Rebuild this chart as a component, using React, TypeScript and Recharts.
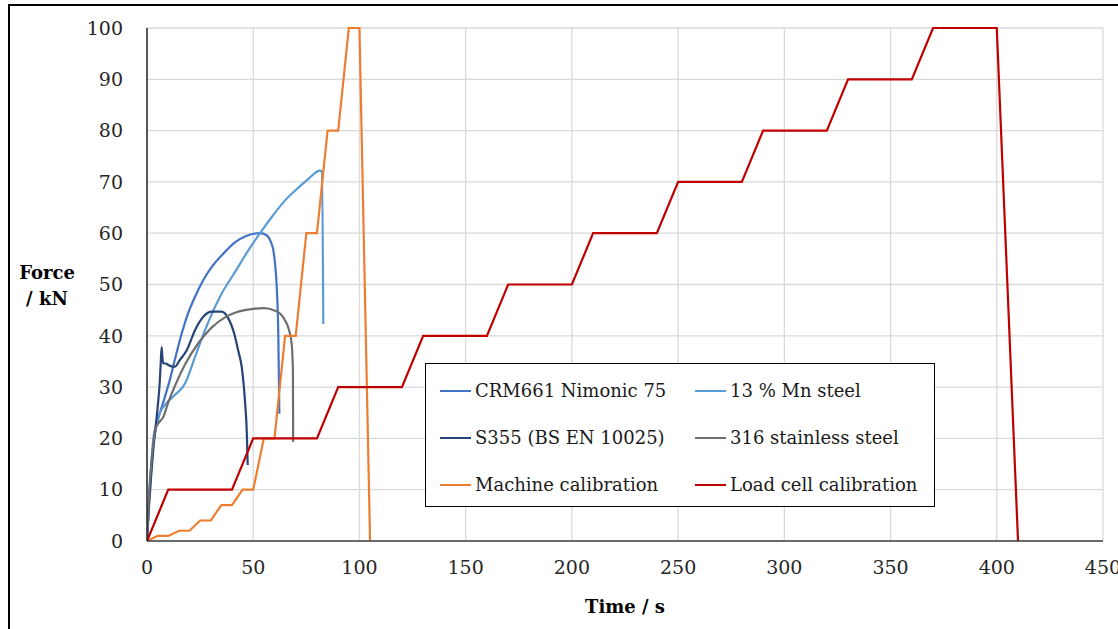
import { CartesianGrid, Label, Legend, Line, LineChart, XAxis, YAxis } from "recharts"

// time (s) / force (kN)
const nimonicTime = [0, 1, 2, 3, 4.5, 5.5, 8, 10.8, 13.2, 16.3, 19, 22.6, 26, 30.4, 35, 41.4, 47, 53.2, 56.3, 58.2, 59.5, 60.4, 61, 61.8, 62.3]
const nimonicForce = [0, 8, 14, 19, 22.5, 24.2, 27.5, 31.5, 35.5, 40.4, 44, 47.6, 50.5, 53.4, 55.6, 58.2, 59.5, 60, 59.6, 58.4, 56.6, 53.5, 50.1, 40.4, 24.8]

const mnTime = [0, 1, 2, 3, 4.5, 6.1, 9, 13.2, 17.9, 22.6, 27.3, 35.1, 41.4, 47, 53.2, 59, 65, 70, 76, 81.4, 82.3, 83]
const mnForce = [0, 9, 15, 20, 23, 25, 26.8, 28.5, 30.7, 35.9, 41.1, 48.2, 52.4, 56.2, 60, 63.3, 66.4, 68.4, 70.6, 72.2, 72, 42.3]

const s355Time = [0, 1, 2, 3, 4, 5, 6, 6.5, 6.9, 7.3, 7.7, 9, 10, 12, 13.2, 15.5, 18.7, 22.6, 26.5, 30.4, 35.1, 38, 41, 43, 44.6, 46.1, 47, 47.4]
const s355Force = [0, 7, 13, 18, 22, 26, 31, 35, 37.8, 35.5, 34.6, 34.6, 34.3, 34, 34, 35.3, 37.2, 41.1, 43.7, 44.7, 44.7, 43.6, 40.5, 37, 33.9, 27.4, 20.9, 14.8]

const stainlessTime = [0, 1, 2, 3, 3.8, 5.5, 7.7, 10, 13.2, 17.9, 24.2, 30.4, 36.7, 41.4, 46, 50.8, 55, 60.3, 63, 65, 66.8, 68.1, 68.7, 68.8]
const stainlessForce = [0, 9, 15, 19, 21.7, 23, 24.2, 27, 30.3, 34.4, 38.6, 41.6, 43.6, 44.5, 45, 45.3, 45.4, 44.9, 44.2, 43, 41.2, 38.4, 33, 19.3]

const machineTime = [0, 5, 10, 15, 20, 25, 30, 35, 40, 45, 50, 55, 60, 65, 70, 75, 80, 85, 90, 95, 100, 105]
const machineForce = [0, 1, 1, 2, 2, 4, 4, 7, 7, 10, 10, 20, 20, 40, 40, 60, 60, 80, 80, 100, 100, 0]

const loadCellTime = [0, 10, 40, 50, 80, 90, 120, 130, 160, 170, 200, 210, 240, 250, 280, 290, 320, 330, 360, 370, 400, 410]
const loadCellForce = [0, 10, 10, 20, 20, 30, 30, 40, 40, 50, 50, 60, 60, 70, 70, 80, 80, 90, 90, 100, 100, 0]

const xTicks = [0, 50, 100, 150, 200, 250, 300, 350, 400, 450]
const yTicks = [0, 10, 20, 30, 40, 50, 60, 70, 80, 90, 100]

const toPoints = (t: number[], f: number[]) => t.map((x, i) => ({ x, y: f[i] }))

const series = [
  { name: "CRM661 Nimonic 75", color: "#4472C4", data: toPoints(nimonicTime, nimonicForce), curve: "monotone" },
  { name: "13 % Mn steel", color: "#5B9BD5", data: toPoints(mnTime, mnForce), curve: "monotone" },
  { name: "S355 (BS EN 10025)", color: "#264478", data: toPoints(s355Time, s355Force), curve: "monotone" },
  { name: "316 stainless steel", color: "#6E6E6E", data: toPoints(stainlessTime, stainlessForce), curve: "monotone" },
  { name: "Machine calibration", color: "#ED7D31", data: toPoints(machineTime, machineForce), curve: "linear" },
  { name: "Load cell calibration", color: "#C00000", data: toPoints(loadCellTime, loadCellForce), curve: "linear" },
]

const FONT = "'DejaVu Serif', serif"

// legend keeps the series order (recharts sorts the payload by name otherwise)
function LegendBox() {
  return (
    <div
      style={{
        border: "1.5px solid #000",
        background: "#fff",
        width: 510,
        height: 144,
        boxSizing: "border-box",
        display: "grid",
        gridTemplateColumns: "255px 255px",
        gridAutoRows: "47px",
        padding: "3px 0 0 0",
        fontFamily: FONT,
        fontSize: 18,
        color: "#1a1a1a",
      }}
    >
      {series.map((s) => (
        <div key={s.name} style={{ display: "flex", alignItems: "center", paddingLeft: 14 }}>
          <span style={{ display: "inline-block", width: 31, height: 2, background: s.color, marginRight: 4 }} />
          <span>{s.name}</span>
        </div>
      ))}
    </div>
  )
}

const yAxisTitle = () => (
  <text fontFamily={FONT} fontSize={18} fontWeight="bold" fill="#000" textAnchor="middle">
    <tspan x={47} y={279}>Force</tspan>
    <tspan x={47} y={305}>/ kN</tspan>
  </text>
)

export default function App() {
  return (
    <div style={{ position: "absolute", left: 0, top: 0, width: 1118, height: 629, overflow: "hidden", background: "#fff" }}>
      <div
        style={{
          position: "absolute",
          left: 8,
          top: 4,
          width: 1300,
          height: 800,
          border: "2.5px solid #000",
        }}
      />
      <div style={{ position: "absolute", left: 0, top: 0 }}>
        <LineChart width={1200} height={629} margin={{ top: 28, right: 97, bottom: 0, left: 0 }}>
          <CartesianGrid stroke="#d9d9d9" strokeWidth={1.3} />
          <XAxis
            type="number"
            dataKey="x"
            domain={[0, 450]}
            ticks={xTicks}
            allowDataOverflow
            height={88}
            tickLine={false}
            tickSize={0}
            tickMargin={20}
            stroke="#404040"
            strokeWidth={1.5}
            tick={{ fontFamily: FONT, fontSize: 19, fill: "#262626" }}
          >
            <Label
              value="Time / s"
              position="insideBottom"
              offset={16}
              style={{ fontFamily: FONT, fontSize: 18, fontWeight: "bold", fill: "#000" }}
            />
          </XAxis>
          <YAxis
            type="number"
            domain={[0, 100]}
            ticks={yTicks}
            width={147}
            tickLine={false}
            tickSize={0}
            tickMargin={24}
            stroke="#262626"
            strokeWidth={1.5}
            tick={{ fontFamily: FONT, fontSize: 19, fill: "#262626" }}
          >
            <Label content={yAxisTitle} />
          </YAxis>
          <Legend
            layout="vertical"
            align="center"
            verticalAlign="middle"
            content={<LegendBox />}
            wrapperStyle={{ position: "absolute", left: 425, top: 363, width: 510, height: 144 }}
          />
          {series.map((s) => (
            <Line
              key={s.name}
              name={s.name}
              data={s.data}
              dataKey="y"
              type={s.curve as any}
              stroke={s.color}
              strokeWidth={2.2}
              dot={false}
              activeDot={false}
              isAnimationActive={false}
            />
          ))}
        </LineChart>
      </div>
    </div>
  )
}
